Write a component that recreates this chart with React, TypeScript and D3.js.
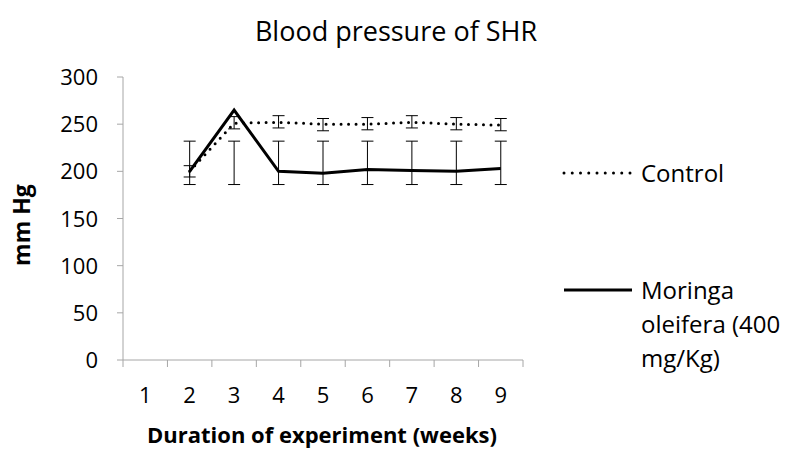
import React from 'react';
import * as d3 from 'd3';

const weeks = ['1', '2', '3', '4', '5', '6', '7', '8', '9'];
const yTicks = [0, 50, 100, 150, 200, 250, 300];

// Control group (weeks 2-9)
const controlWeeks = ['2', '3', '4', '5', '6', '7', '8', '9'];
const controlMean = [200, 251, 252, 250, 250, 252, 250, 249];
const controlLow = [194, 245, 246, 243, 244, 246, 244, 243];
const controlHigh = [206, 258, 259, 256, 257, 259, 257, 256];

// Moringa oleifera (400 mg/Kg)
const moringaWeeks = ['2', '3', '4', '5', '6', '7', '8', '9'];
const moringaMean = [200, 265, 200, 198, 202, 201, 200, 203];
const moringaLow = [186, 186, 186, 186, 186, 186, 186, 186];
const moringaHigh = [232, 232, 232, 232, 232, 232, 232, 232];

const W = 787;
const H = 450;
const FONT = "'Open Sans', sans-serif";
const AXIS = '#a6a6a6';

export default function App() {
  const x = d3.scaleBand<string>().domain(weeks).range([123, 523]);
  const y = d3.scaleLinear().domain([0, 300]).range([360, 77]);
  const cx = (w: string) => (x(w) ?? 0) + x.bandwidth() / 2;

  const line = d3
    .line<[string, number]>()
    .x((d) => cx(d[0]))
    .y((d) => y(d[1]));

  const control = controlWeeks.map((w, i) => [w, controlMean[i]] as [string, number]);
  const moringa = moringaWeeks.map((w, i) => [w, moringaMean[i]] as [string, number]);

  // category boundaries for the x ticks
  const bounds = weeks.map((w) => x(w) ?? 0).concat([x.range()[1]]);

  const errBars = (ws: string[], lo: number[], hi: number[], key: string) =>
    ws.map((w, i) => {
      const px = cx(w);
      return (
        <g key={key + w} stroke="#000" strokeWidth={1}>
          <line x1={px} x2={px} y1={y(lo[i])} y2={y(hi[i])} />
          <line x1={px - 6} x2={px + 6} y1={y(lo[i])} y2={y(lo[i])} />
          <line x1={px - 6} x2={px + 6} y1={y(hi[i])} y2={y(hi[i])} />
        </g>
      );
    });

  return (
    <svg width={W} height={H} style={{ position: 'absolute', left: 0, top: 0, background: '#fff' }}>
      <rect width={W} height={H} fill="#fff" />
      <text x={396} y={41} textAnchor="middle" fontFamily={FONT} fontSize={27} fill="#000">
        Blood pressure of SHR
      </text>

      {/* y axis */}
      <line x1={123} x2={123} y1={y(300)} y2={y(0)} stroke={AXIS} />
      {yTicks.map((t) => (
        <g key={t}>
          <line x1={117} x2={123} y1={y(t)} y2={y(t)} stroke={AXIS} />
          <text x={98} y={y(t) + 8} textAnchor="end" fontFamily={FONT} fontSize={22} fill="#000">
            {t}
          </text>
        </g>
      ))}

      {/* x axis */}
      <line x1={123} x2={523} y1={y(0)} y2={y(0)} stroke={AXIS} />
      {bounds.map((b, i) => (
        <line key={i} x1={b} x2={b} y1={y(0)} y2={y(0) + 7} stroke={AXIS} />
      ))}
      {weeks.map((w) => (
        <text key={w} x={cx(w)} y={403} textAnchor="middle" fontFamily={FONT} fontSize={22} fill="#000">
          {w}
        </text>
      ))}

      <text x={322} y={443} textAnchor="middle" fontFamily={FONT} fontSize={22} fontWeight="bold" fill="#000">
        Duration of experiment (weeks)
      </text>
      <text
        transform="translate(30,225) rotate(-90)"
        textAnchor="middle"
        fontFamily={FONT}
        fontSize={23}
        fontWeight="bold"
        fill="#000"
      >
        mm Hg
      </text>

      {errBars(moringaWeeks, moringaLow, moringaHigh, 'm')}
      {errBars(controlWeeks, controlLow, controlHigh, 'c')}

      <path d={line(moringa) ?? ''} fill="none" stroke="#000" strokeWidth={3} />
      <path
        d={line(control) ?? ''}
        fill="none"
        stroke="#000"
        strokeWidth={3}
        strokeDasharray="0 7.5"
        strokeLinecap="round"
      />

      {/* legend */}
      <line x1={564} x2={631} y1={173} y2={173} stroke="#000" strokeWidth={3} strokeDasharray="0 8.25" strokeLinecap="round" />
      <text x={641} y={182} fontFamily={FONT} fontSize={24} fill="#000">Control</text>
      <line x1={564} x2={632} y1={290} y2={290} stroke="#000" strokeWidth={3} />
      <text fontFamily={FONT} fontSize={24} fill="#000">
        <tspan x={641} y={299}>Moringa</tspan>
        <tspan x={641} y={333}>oleifera (400</tspan>
        <tspan x={641} y={367}>mg/Kg)</tspan>
      </text>
    </svg>
  );
}
